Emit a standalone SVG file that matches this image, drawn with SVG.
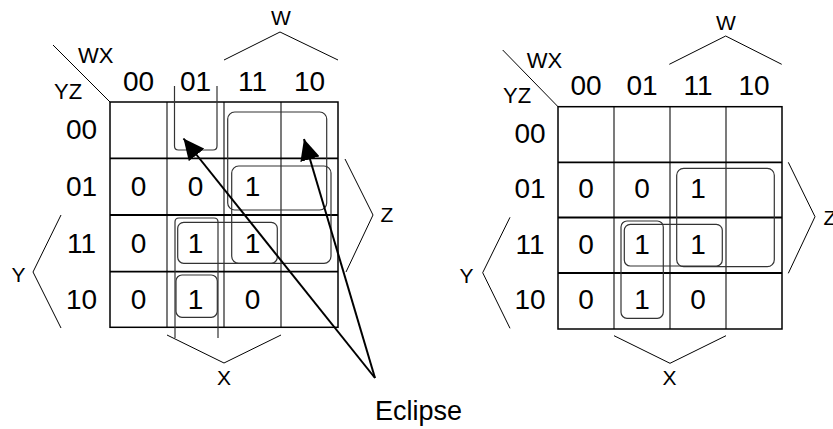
<svg xmlns="http://www.w3.org/2000/svg" width="833" height="429" viewBox="0 0 833 429">
  <defs>
    <style>
      text { font-family: "Liberation Sans", Arial, sans-serif; fill: #000; }
      .big { font-size: 28px; text-anchor: middle; }
      .var { font-size: 21px; text-anchor: middle; }
      .hdr { font-size: 22px; }
      .border { fill: none; stroke: #000; stroke-width: 1.5; }
      .hline { stroke: #000; stroke-width: 1.8; }
      .vline { stroke: #222; stroke-width: 1.2; }
      .thin { fill: none; stroke: #000; stroke-width: 1; }
      .grp { fill: none; stroke: #333; stroke-width: 1.2; }
      .arrow { fill: none; stroke: #000; stroke-width: 2; marker-end: url(#head); }
    </style>
    <marker id="head" viewBox="0 0 21 20" refX="21" refY="10" markerWidth="21" markerHeight="20" markerUnits="userSpaceOnUse" orient="auto">
      <path d="M0,0 L21,10 L0,20 z" fill="#000"/>
    </marker>
  </defs>

  <!-- Left K-map -->
  <g id="map-left">
    <line class="thin" x1="53" y1="45" x2="110" y2="102"/>
    <text class="hdr" x="78" y="63">WX</text>
    <text class="hdr" x="54" y="99">YZ</text>
    <text class="big" x="138.5" y="90.7">00</text>
    <text class="big" x="195.5" y="90.7">01</text>
    <text class="big" x="252.5" y="90.7">11</text>
    <text class="big" x="309.5" y="90.7">10</text>
    <text class="big" x="81.5" y="139">00</text>
    <text class="big" x="81.5" y="196">01</text>
    <text class="big" x="81.5" y="253">11</text>
    <text class="big" x="81.5" y="309">10</text>
    <!-- grid -->
    <line class="vline" x1="167" y1="102" x2="167" y2="327.3"/>
    <line class="vline" x1="224" y1="102" x2="224" y2="327.3"/>
    <line class="vline" x1="281" y1="102" x2="281" y2="327.3"/>
    <line class="hline" x1="110" y1="158.3" x2="338" y2="158.3"/>
    <line class="hline" x1="110" y1="215" x2="338" y2="215"/>
    <line class="hline" x1="110" y1="271.7" x2="338" y2="271.7"/>
    <rect class="border" x="110" y="102" width="228" height="225.3"/>
    <!-- cell values -->
    <text class="big" x="138.5" y="196">0</text>
    <text class="big" x="195.5" y="196">0</text>
    <text class="big" x="252.5" y="196">1</text>
    <text class="big" x="138.5" y="253">0</text>
    <text class="big" x="195.5" y="253">1</text>
    <text class="big" x="252.5" y="253">1</text>
    <text class="big" x="138.5" y="309">0</text>
    <text class="big" x="195.5" y="309">1</text>
    <text class="big" x="252.5" y="309">0</text>
    <!-- groupings -->
    <path class="grp" d="M174.5,86 V146 Q174.5,150 178.5,150 H213 Q217,150 217,146 V86"/>
    <rect class="grp" x="227.7" y="112" width="99" height="98" rx="7"/>
    <rect class="grp" x="231.7" y="166" width="99.3" height="97.3" rx="7"/>
    <rect class="grp" x="177.7" y="222.3" width="99.6" height="41" rx="6"/>
    <rect class="grp" x="176" y="275" width="41.3" height="42.3" rx="6"/>
    <path class="grp" d="M175,338 V222 Q175,218 179,218 H214 Q218,218 218,222 V338"/>
    <!-- variable braces -->
    <polyline class="thin" points="224,60 280,32 338,60"/>
    <text class="var" x="281" y="25">W</text>
    <polyline class="thin" points="345,159 373,215 346,272"/>
    <text class="var" x="387" y="222">Z</text>
    <polyline class="thin" points="61,215 33,272 61,328"/>
    <text class="var" x="18.5" y="282">Y</text>
    <polyline class="thin" points="167,335 224,363 281,335"/>
    <text class="var" x="224" y="385">X</text>
  </g>

  <!-- Right K-map -->
  <g id="map-right">
    <line class="thin" x1="502.7" y1="50" x2="558" y2="106.7"/>
    <text class="hdr" x="526.7" y="68">WX</text>
    <text class="hdr" x="503" y="103">YZ</text>
    <text class="big" x="586" y="95">00</text>
    <text class="big" x="642" y="95">01</text>
    <text class="big" x="698" y="95">11</text>
    <text class="big" x="754" y="95">10</text>
    <text class="big" x="530" y="142.5">00</text>
    <text class="big" x="530" y="198.1">01</text>
    <text class="big" x="530" y="253.7">11</text>
    <text class="big" x="530" y="309.3">10</text>
    <!-- grid -->
    <line class="vline" x1="614" y1="106.7" x2="614" y2="329"/>
    <line class="vline" x1="670" y1="106.7" x2="670" y2="329"/>
    <line class="vline" x1="726" y1="106.7" x2="726" y2="329"/>
    <line class="hline" x1="558" y1="162.3" x2="782" y2="162.3"/>
    <line class="hline" x1="558" y1="217.5" x2="782" y2="217.5"/>
    <line class="hline" x1="558" y1="273" x2="782" y2="273"/>
    <rect class="border" x="558" y="106.7" width="224" height="222.3"/>
    <!-- cell values -->
    <text class="big" x="586" y="198.1">0</text>
    <text class="big" x="642" y="198.1">0</text>
    <text class="big" x="698" y="198.1">1</text>
    <text class="big" x="586" y="253.7">0</text>
    <text class="big" x="642" y="253.7">1</text>
    <text class="big" x="698" y="253.7">1</text>
    <text class="big" x="586" y="309.3">0</text>
    <text class="big" x="642" y="309.3">1</text>
    <text class="big" x="698" y="309.3">0</text>
    <!-- groupings -->
    <rect class="grp" x="676.7" y="168.3" width="97.6" height="98.4" rx="7"/>
    <rect class="grp" x="624.3" y="224.3" width="98" height="41.7" rx="6"/>
    <rect class="grp" x="621" y="221" width="42.3" height="97.3" rx="6"/>
    <!-- variable braces -->
    <polyline class="thin" points="669.3,64.3 725.7,36 781.7,64.3"/>
    <text class="var" x="726" y="30">W</text>
    <polyline class="thin" points="788.3,162.3 815,216.7 788.3,273.3"/>
    <text class="var" x="830" y="225">Z</text>
    <polyline class="thin" points="510,217.3 482.7,272.7 510,328.3"/>
    <text class="var" x="466.5" y="283">Y</text>
    <polyline class="thin" points="614,335.7 670,363.3 726,335.7"/>
    <text class="var" x="669.5" y="385">X</text>
  </g>

  <!-- Callout label -->
  <g id="label-eclipse">
    <text x="375" y="420" style="font-size:27px">Eclipse</text>
  </g>

  <!-- Callout arrows -->
  <g id="connectors">
    <path class="arrow" d="M375,378 L183.5,138.5"/>
    <path class="arrow" d="M375,378 L304,139"/>
  </g>
</svg>
